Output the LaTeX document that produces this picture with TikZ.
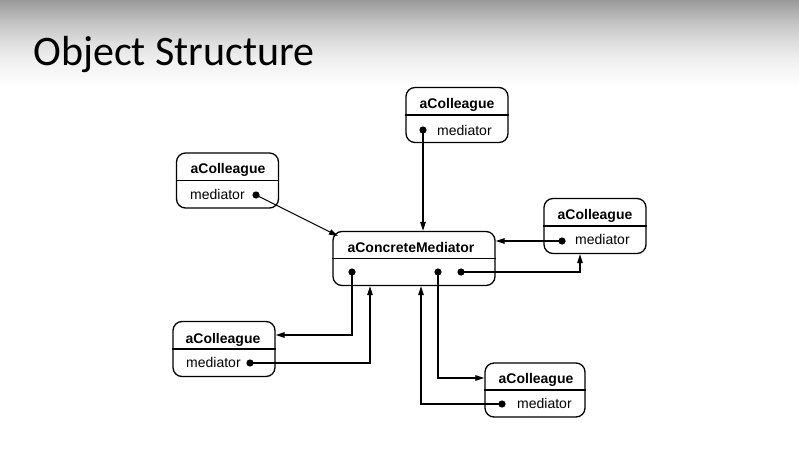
\documentclass[tikz,border=0pt]{standalone}
\usepackage{fontspec}
\setmainfont{Liberation Sans}
\newfontfamily\slidefont{Carlito}
\usetikzlibrary{arrows.meta}
\definecolor{slidegray}{RGB}{154,154,154}
\definecolor{slidemid}{RGB}{192,192,192}
\definecolor{slidelight}{RGB}{220,220,220}
\definecolor{slidepale}{RGB}{240,240,240}
\pgfdeclareverticalshading{slidetop}{100bp}{color(0bp)=(white); color(25bp)=(white); color(40bp)=(slidepale); color(51.5bp)=(slidelight); color(63bp)=(slidemid); color(75bp)=(slidegray); color(100bp)=(slidegray)}
\tikzset{
  obj/.style={draw, line width=1.3pt, rounded corners=9pt, minimum width=102pt, minimum height=55pt, inner sep=0pt},
  hdr/.style={font=\fontsize{14}{16}\selectfont\bfseries, inner sep=0pt, anchor=base},
  fld/.style={font=\fontsize{14}{16}\selectfont, inner sep=0pt, anchor=base west},
  msg/.style={line width=1.1pt, -{Triangle[length=9pt,width=5.5pt]}},
}

\begin{document}
\begin{tikzpicture}[x=1pt,y=-1pt]
\useasboundingbox (0,0) rectangle (799,468);
\fill[white] (0,0) rectangle (799,468);
\shade[shading=slidetop] (0,0) rectangle (799,86);
\node[anchor=base west, inner sep=0pt, font=\slidefont\fontsize{42}{48}\selectfont] (title) at (33,66) {Object Structure};
\node[obj] (topcol) at (457,115) {};
\node[obj] (leftcol) at (227.5,180.5) {};
\node[obj] (rightcol) at (595,226) {};
\node[obj, minimum width=162pt, minimum height=54pt] (med) at (414,258.5) {};
\node[obj] (blcol) at (224,349) {};
\node[obj, minimum width=100pt, minimum height=54pt] (brcol) at (535,390) {};
\draw[line width=1.2pt] (topcol.west) -- (topcol.east);
\draw[line width=1.2pt] (leftcol.west) -- (leftcol.east);
\draw[line width=1.2pt] (rightcol.west) -- (rightcol.east);
\draw[line width=1.2pt] (med.west) -- (med.east);
\draw[line width=1.2pt] (blcol.west) -- (blcol.east);
\draw[line width=1.2pt] (brcol.west) -- (brcol.east);
\node[hdr] (topname) at (457,109) {aColleague};
\node[fld] (topfld) at (437,135) {mediator};
\node[hdr] (leftname) at (228,173) {aColleague};
\node[fld] (leftfld) at (190,199) {mediator};
\node[hdr] (rightname) at (595,219) {aColleague};
\node[fld] (rightfld) at (575,244) {mediator};
\node[hdr] (medname) at (411,252) {aConcreteMediator};
\node[hdr] (blname) at (223,343) {aColleague};
\node[fld] (blfld) at (186,367) {mediator};
\node[hdr] (brname) at (536,383) {aColleague};
\node[fld] (brfld) at (517,408) {mediator};
\coordinate (topdot) at (423,130);
\coordinate (leftdot) at (256,195);
\coordinate (rightdot) at (562,241);
\coordinate (meddota) at (352,272);
\coordinate (meddotb) at (438,272);
\coordinate (meddotc) at (461,272);
\coordinate (bldot) at (250,363);
\coordinate (brdot) at (502,404);
\coordinate (medcorner) at (338,236);
\fill (topdot) circle (3.6pt);
\fill (leftdot) circle (3.6pt);
\fill (rightdot) circle (3.6pt);
\fill (meddota) circle (3.6pt);
\fill (meddotb) circle (3.6pt);
\fill (meddotc) circle (3.6pt);
\fill (bldot) circle (3.6pt);
\fill (brdot) circle (3.6pt);
\draw[msg] (topdot) -- (topdot |- med.north);
\draw[msg] (leftdot) -- (medcorner);
\draw[msg] (rightdot) -- (rightdot -| med.east);
\draw[msg] (meddotc) -| ([xshift=-15pt]rightcol.south);
\draw[msg] (meddota) |- ([yshift=14pt]blcol.east);
\draw[msg] (bldot) -| ([xshift=-44pt]med.south);
\draw[msg] (meddotb) |- ([yshift=12pt]brcol.west);
\draw[msg] (brdot) -| ([xshift=7pt]med.south);
\end{tikzpicture}
\end{document}
